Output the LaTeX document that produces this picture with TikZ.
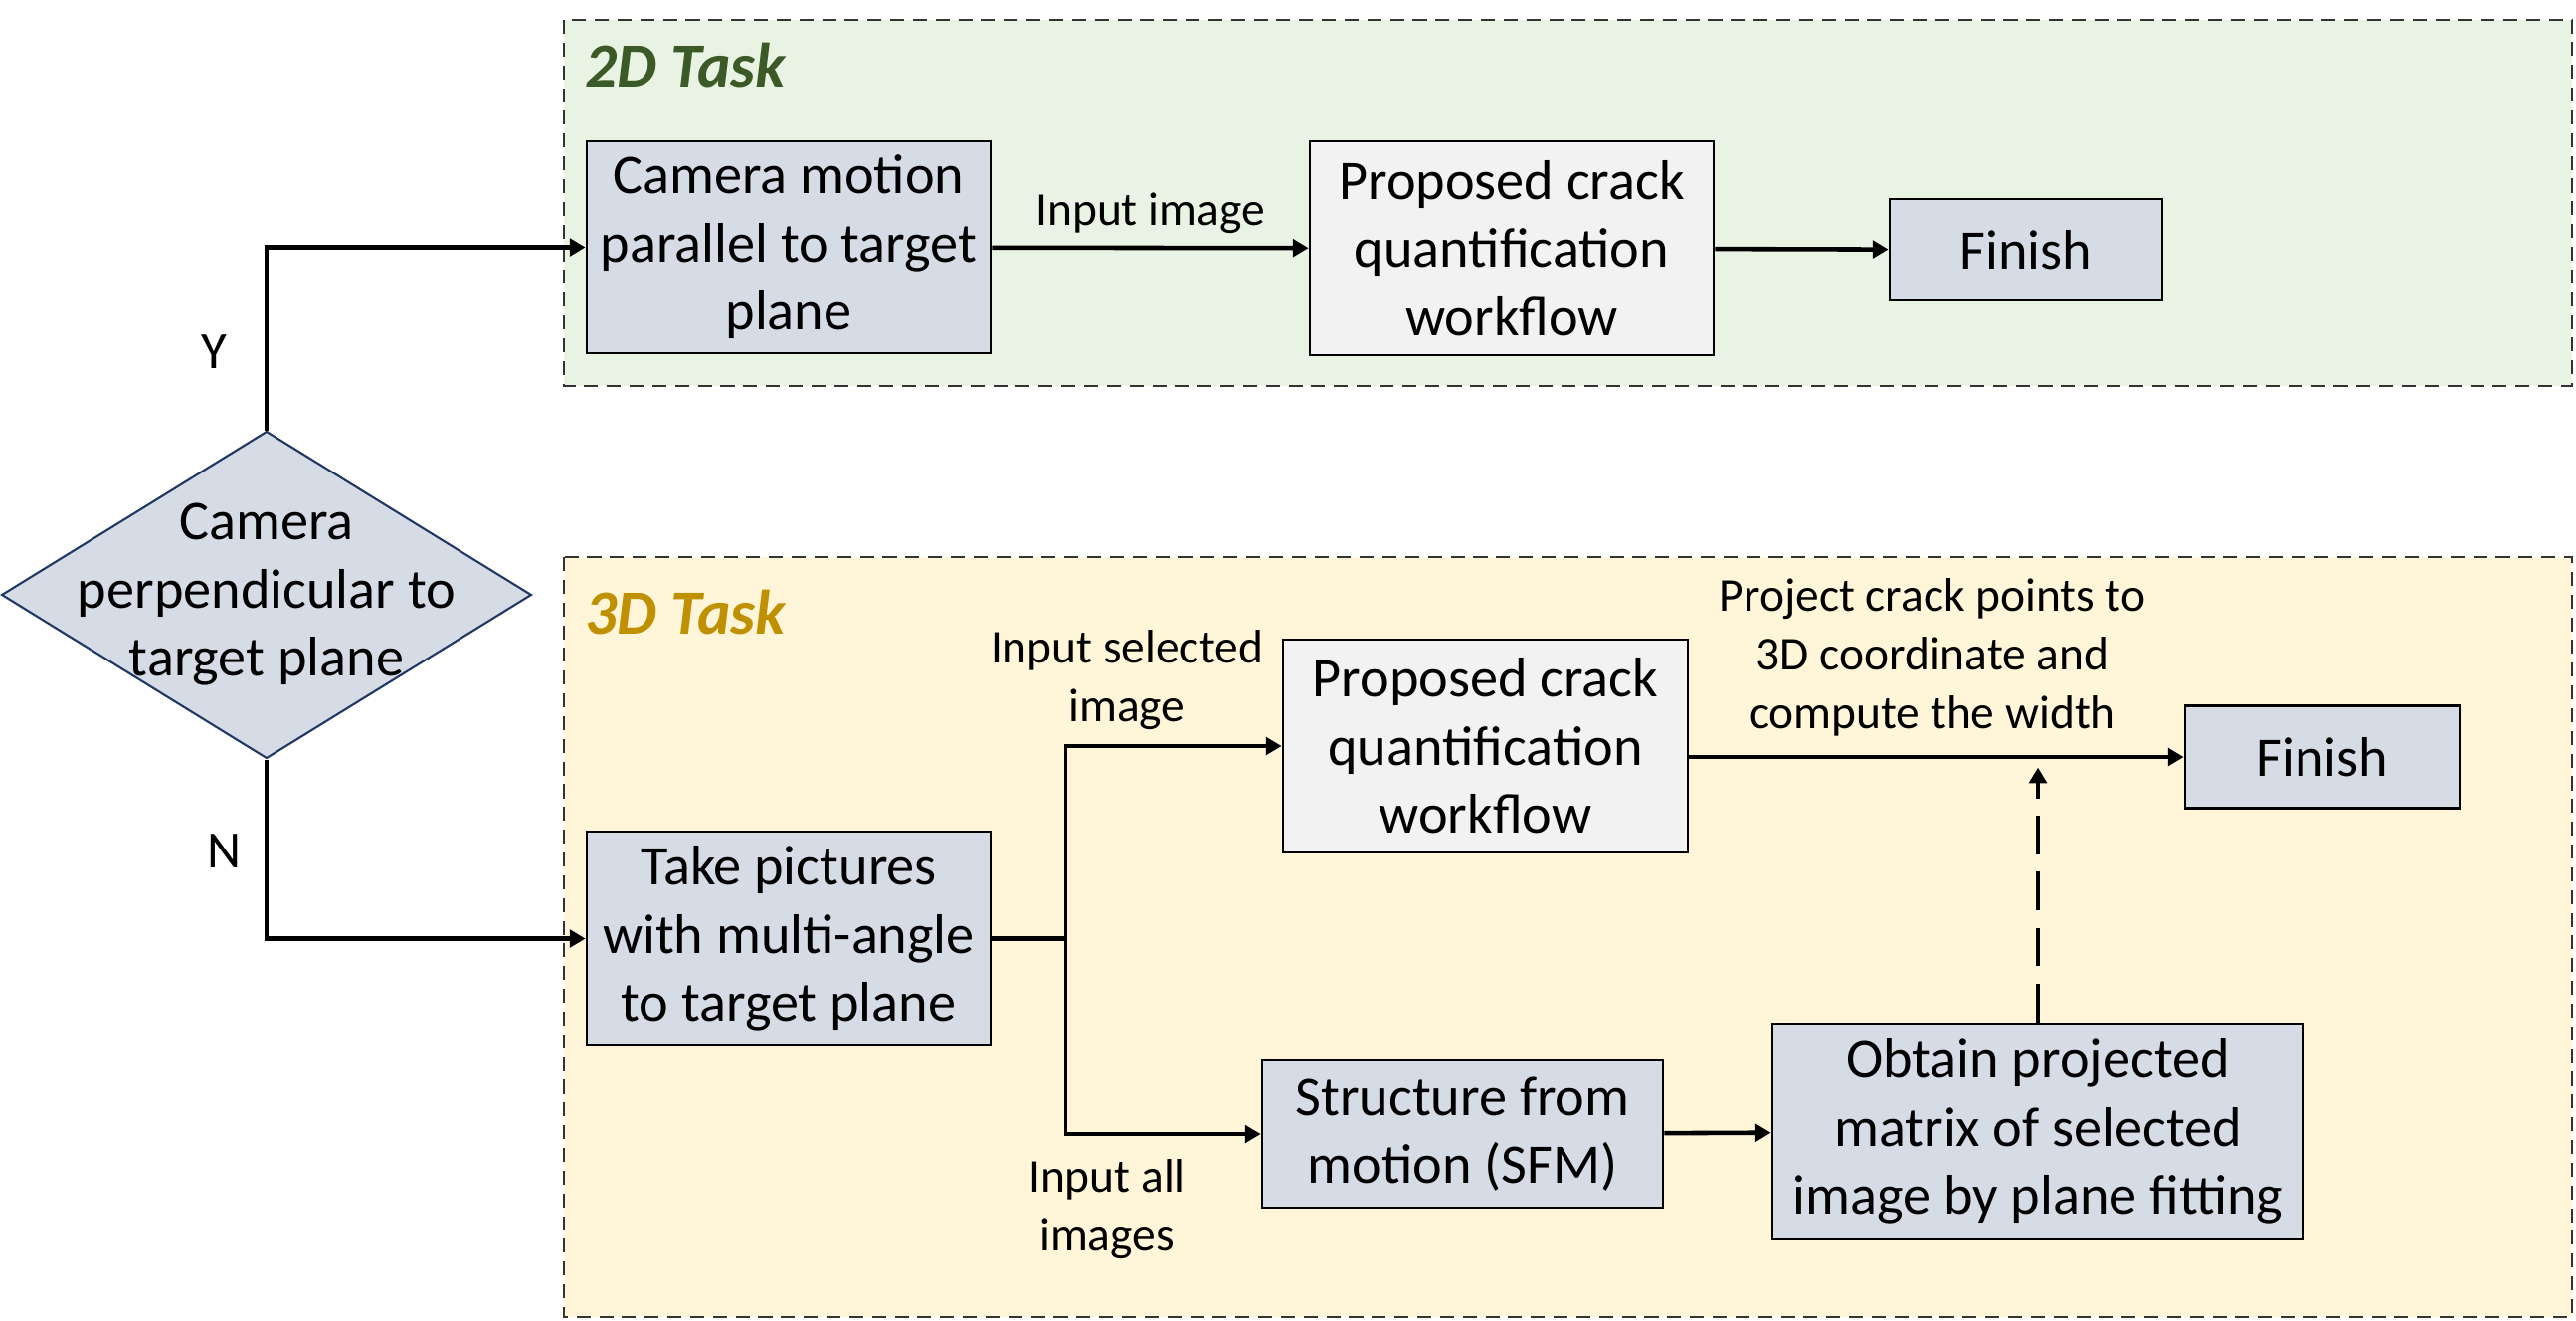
\documentclass[tikz,border=0pt]{standalone}
\usepackage{fontspec}
\setmainfont{Carlito}
\usetikzlibrary{arrows.meta}
\usetikzlibrary{shapes.geometric}
\usetikzlibrary{positioning}

\definecolor{boxblue}{HTML}{D6DCE5}
\definecolor{boxgray}{HTML}{F2F2F2}
\definecolor{bggreen}{HTML}{E9F3E3}
\definecolor{bgyellow}{HTML}{FFF5D9}
\definecolor{taskgreen}{HTML}{3B5A27}
\definecolor{taskgold}{HTML}{BF9000}
\definecolor{navy}{HTML}{203864}

\tikzset{
  stepbox/.style={draw=black, line width=0.8pt, fill=boxblue, align=center,
    inner sep=0pt, font=\fontsize{16}{19.5}\selectfont},
  decision/.style={diamond, draw=navy, line width=0.6pt, fill=boxblue, align=center,
    aspect=1.62, inner sep=-2.75mm, minimum width=5.3cm, minimum height=3.27cm,
    font=\fontsize{16}{19.5}\selectfont},
  taskframe/.style={draw=black!80, line width=0.6pt, dash pattern=on 4pt off 2.5pt},
  tasktitle/.style={anchor=west, inner sep=0pt, font=\fontsize{18}{22}\selectfont\bfseries\itshape},
  flowlabel/.style={align=center, font=\fontsize{13.5}{16.8}\selectfont},
  flow/.style={line width=1.3pt, -{Triangle[length=4.5pt,width=5pt]}},
  branch/.style={line width=1pt, -{Triangle[length=4.5pt,width=5pt]}}
}

\begin{document}
\begin{tikzpicture}
  \useasboundingbox (0,0) rectangle (25.9,-13.27);

  % task frames
  \draw[taskframe, fill=bggreen] (5.67,-0.20) rectangle (25.86,-3.88);
  \draw[taskframe, fill=bgyellow] (5.67,-5.60) rectangle (25.86,-13.24);
  \node[tasktitle, text=taskgreen] (title2d) at (5.88,-0.66) {2D Task};
  \node[tasktitle, text=taskgold] (title3d) at (5.88,-6.16) {3D Task};

  % 2D branch
  \node[stepbox, minimum width=4.06cm, minimum height=2.13cm] (motion) at (7.93,-2.485) {Camera motion\\parallel to target\\plane};
  \node[stepbox, fill=boxgray, minimum width=4.06cm, minimum height=2.15cm] (quant2d) at (15.20,-2.495) {Proposed crack\\quantification\\workflow};
  \node[stepbox, minimum width=2.74cm, minimum height=1.02cm] (finish2d) at (20.37,-2.51) {Finish};

  % decision
  \node[decision] (cond) at (2.68,-5.98) {Camera\\perpendicular to\\target plane};

  % 3D branch
  \node[stepbox, minimum width=4.06cm, minimum height=2.15cm] (pictures) at (7.93,-9.435) {Take pictures\\with multi-angle\\to target plane};
  \node[stepbox, fill=boxgray, minimum width=4.07cm, minimum height=2.14cm] (quant3d) at (14.935,-7.50) {Proposed crack\\quantification\\workflow};
  \node[stepbox, minimum width=2.76cm, minimum height=1.03cm] (finish3d) at (23.35,-7.61) {Finish};
  \node[stepbox, minimum width=4.03cm, minimum height=1.48cm] (sfm) at (14.705,-11.40) {Structure from\\motion (SFM)};
  \node[stepbox, minimum width=5.34cm, minimum height=2.17cm] (fitting) at (20.49,-11.375) {Obtain projected\\matrix of selected\\image by plane fitting};

  % connectors
  \draw[flow] (cond.north) |- (motion.west);
  \node[flowlabel, font=\fontsize{15}{18}\selectfont] (yes) at (2.15,-3.54) {Y};
  \draw[flow] (cond.south) |- (pictures.west);
  \node[flowlabel, font=\fontsize{15}{18}\selectfont] (no) at (2.26,-8.56) {N};

  \draw[flow] (motion) -- node[flowlabel, above] (lblinput) {Input image} (quant2d);
  \draw[flow] (quant2d) -- (finish2d);

  \coordinate (split) at ([xshift=0.74cm]pictures.east);
  \draw[line width=1.3pt] (pictures.east) -- (split);
  \draw[branch] (split) |- (quant3d.west);
  \draw[branch] (split) |- (sfm.west);
  \node[flowlabel] (lblselected) at (11.33,-6.84) {Input selected\\image};
  \node[flowlabel] (lblall) at (11.13,-12.16) {Input all\\images};

  \draw[flow] (quant3d.east |- finish3d) -- (finish3d.west);
  \node[flowlabel] (lblproject) at (19.43,-6.61) {Project crack points to\\3D coordinate and\\compute the width};
  \draw[flow] (sfm) -- (fitting);
  \coordinate (proj) at (fitting.north |- finish3d.west);
  \draw[flow, dash pattern=on 11pt off 5pt] (fitting.north) -- ([yshift=-3pt]proj);
\end{tikzpicture}
\end{document}
